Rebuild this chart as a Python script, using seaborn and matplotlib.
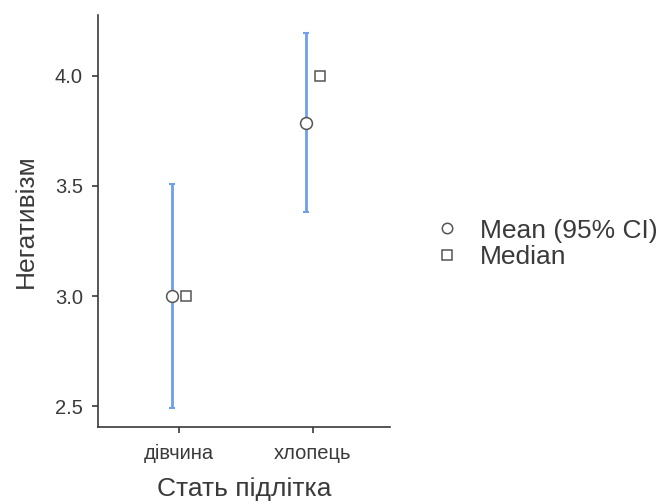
import numpy as np
import pandas as pd
import matplotlib
matplotlib.use("Agg")
import matplotlib.pyplot as plt
from matplotlib.lines import Line2D
import seaborn as sns

categories = ["дівчина", "хлопець"]
mean_values = [3.0, 3.785]
ci_low = [2.49, 3.38]
ci_high = [3.51, 4.195]
median_values = [3.0, 4.0]
y_ticks = [2.5, 3.0, 3.5, 4.0]

sns.set_theme(style="ticks")
plt.rcParams["font.family"] = ["Liberation Sans", "DejaVu Sans"]

df = pd.DataFrame({
    "sex": categories * 2,
    "stat": ["Mean (95% CI)"] * 2 + ["Median"] * 2,
    "value": mean_values + median_values,
})

fig = plt.figure(figsize=(6.59, 5.03), dpi=100)
ax = fig.add_axes([0.1487, 0.1511, 0.4431, 0.8191])

txt = "#3a3a3a"
edge = "#555555"
blue = "#6f9fe8"

sns.pointplot(data=df, x="sex", y="value", hue="stat", order=categories,
              dodge=0.1, errorbar=None, markers=["o", "s"], linestyles="none",
              palette=[edge, edge], markerfacecolor="white", markeredgecolor=edge,
              markeredgewidth=1.1, ax=ax, legend=False, zorder=5)

lines = [l for l in ax.lines if len(l.get_xdata()) == len(categories)]
for l, ms in zip(lines, [8.5, 7.0]):
    l.set_markersize(ms)
mean_x = np.asarray(lines[0].get_xdata(), dtype=float)

means = np.array(mean_values)
yerr = np.vstack([means - np.array(ci_low), np.array(ci_high) - means])
ax.errorbar(mean_x, means, yerr=yerr, fmt="none", ecolor=blue, elinewidth=2.0,
            capsize=2.5, capthick=1.5, zorder=2)

ax.set_xlim(-0.604, 1.575)
ax.set_ylim(2.405, 4.277)
ax.set_yticks(y_ticks)
ax.set_yticklabels([f"{v:.1f}" for v in y_ticks])

sns.despine(ax=ax)
for s in ["left", "bottom"]:
    ax.spines[s].set_color(txt)
    ax.spines[s].set_linewidth(1.2)
ax.tick_params(axis="both", colors=txt, labelcolor=txt, labelsize=14.5,
               length=4, width=1.2)
ax.tick_params(axis="y", pad=7)
ax.tick_params(axis="x", pad=8)

ax.set_xlabel("Стать підлітка", fontsize=19, color=txt, labelpad=10)
ax.set_ylabel("Негативізм", fontsize=19, color=txt, labelpad=12)

handles = [
    Line2D([], [], linestyle="none", marker="o", markersize=7.5, markerfacecolor="white",
           markeredgecolor=edge, markeredgewidth=1.1),
    Line2D([], [], linestyle="none", marker="s", markersize=6.5, markerfacecolor="white",
           markeredgecolor=edge, markeredgewidth=1.1),
]
leg = fig.legend(handles, ["Mean (95% CI)", "Median"], loc="center left",
                 bbox_to_anchor=(0.658, 0.515), frameon=False, fontsize=19,
                 handletextpad=0.75, labelspacing=0.1, handlelength=1.0,
                 borderpad=0, borderaxespad=0)
for t in leg.get_texts():
    t.set_color(txt)

fig.savefig("out.png", dpi=100)
